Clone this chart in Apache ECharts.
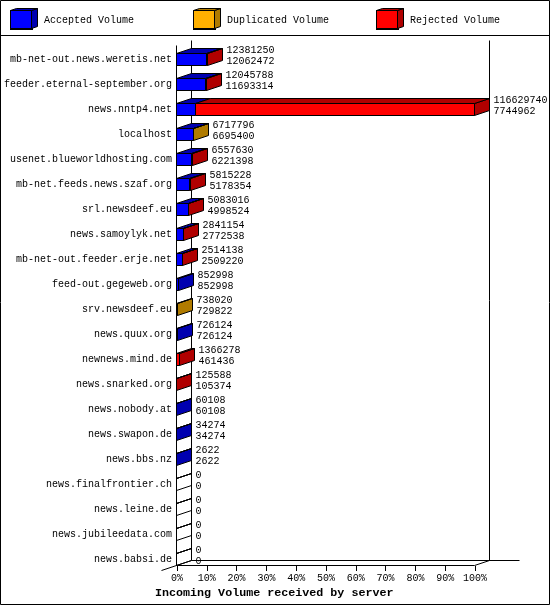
<!DOCTYPE html>
<html><head><meta charset="utf-8">
<style>html,body{margin:0;padding:0;background:#fff}#c{width:550px;height:605px}</style>
<script src="https://cdn.jsdelivr.net/npm/echarts@6/dist/echarts.min.js"></script>
</head><body><div id="c"></div>
<script>
const categories = ["mb-net-out.news.weretis.net","feeder.eternal-september.org","news.nntp4.net","localhost","usenet.blueworldhosting.com","mb-net.feeds.news.szaf.org","srl.newsdeef.eu","news.samoylyk.net","mb-net-out.feeder.erje.net","feed-out.gegeweb.org","srv.newsdeef.eu","news.quux.org","newnews.mind.de","news.snarked.org","news.nobody.at","news.swapon.de","news.bbs.nz","news.finalfrontier.ch","news.leine.de","news.jubileedata.com","news.babsi.de"];
const topLabels = [12381250,12045788,116629740,6717796,6557630,5815228,5083016,2841154,2514138,852998,738020,726124,1366278,125588,60108,34274,2622,0,0,0,0];
const bottomLabels = [12062472,11693314,7744962,6695400,6221398,5178354,4998524,2772538,2509220,852998,729822,726124,461436,105374,60108,34274,2622,0,0,0,0];
const accepted = [12062472,11693314,7744962,6695400,6221398,5178354,4998524,2772538,2509220,852998,0,726124,0,0,60108,34274,2622,0,0,0,0];
const duplicated = [0,0,0,22396,0,0,0,0,0,0,738020,0,0,0,0,0,0,0,0,0,0];
const rejected = [318778,352474,108884778,0,336232,636874,84492,68616,4918,0,0,0,1366278,125588,0,0,0,0,0,0,0];
const FONT = '"Liberation Mono", monospace';
const FULL = Math.max.apply(null, topLabels);
const DX = 15, DY = 5, BAR = 12;
const styles = {
  accepted: {front:'#0000ff', dark:'#0000b0'},
  duplicated: {front:'#ffb000', dark:'#b07b00'},
  rejected: {front:'#ff0000', dark:'#b00000'}
};
const order = [accepted, duplicated, rejected];
function segments(idx) {
  const out = [];
  categories.forEach((c, i) => {
    let start = 0;
    for (let k = 0; k < idx; k++) start += order[k][i];
    const v = order[idx][i];
    const total = accepted[i] + duplicated[i] + rejected[i];
    let isLast = v > 0;
    for (let k = idx + 1; k < 3; k++) if (order[k][i] > 0) isLast = false;
    if (v > 0) out.push([start / FULL * 100, (start + v) / FULL * 100, i, isLast ? 1 : 0, 0]);
    else if (total === 0 && idx === 0) out.push([0, 0, i, 1, 1]);
  });
  return out;
}
const px = v => Math.floor(v + 0.001) - 0.5;
function boxRender(st) {
  return function (params, api) {
    const a = api.coord([api.value(0), api.value(2)]);
    const b = api.coord([api.value(1), api.value(2)]);
    const x0 = px(a[0]), x1 = px(b[0]), y0 = Math.floor(a[1]) + 0.5, y1 = y0 + BAR;
    const empty = api.value(4) === 1;
    const line = {stroke:'#000', lineWidth:1};
    const ch = [];
    if (api.value(3) === 1) {
      ch.push({type:'polygon', shape:{points:[[x1,y0],[x1+DX,y0-DY],[x1+DX,y1-DY],[x1,y1]]},
        style:Object.assign({fill: empty ? 'none' : st.dark}, line)});
    }
    ch.push({type:'polygon', shape:{points:[[x0,y0],[x0+DX,y0-DY],[x1+DX,y0-DY],[x1,y0]]},
      style:Object.assign({fill: empty ? 'none' : st.dark}, line)});
    ch.push({type:'rect', shape:{x:x0, y:y0, width:x1-x0, height:BAR},
      style:Object.assign({fill: empty ? 'none' : st.front}, line)});
    return {type:'group', children:ch};
  };
}
function labelRender(params, api) {
  const i = api.value(1);
  const p = api.coord([api.value(0), i]);
  const x = px(p[0]) + DX + 4, y = Math.floor(p[1]);
  const t = (txt, yy) => ({type:'text', style:{text:String(txt), x:x, y:yy, fill:'#000',
    font:'10px ' + FONT, textAlign:'left', textVerticalAlign:'middle'}});
  return {type:'group', children:[t(topLabels[i], y - 2.5), t(bottomLabels[i], y + 8.5)]};
}
function frameRender(params, api) {
  const tl = api.coord([0, 0]), br = api.coord([100, categories.length - 1]);
  const L = px(tl[0]), R = px(br[0]);
  const bot = Math.floor(br[1]) + 12.5, top = 45.5;
  const seg = (x1,y1,x2,y2) => ({type:'line', shape:{x1,y1,x2,y2}, style:{stroke:'#000', lineWidth:1}});
  return {type:'group', children:[
    seg(L, top, L, bot),
    seg(L + DX, top - DY, L + DX, bot - DY),
    seg(R + DX, top - DY, R + DX, bot - DY),
    seg(L + DX, bot - DY, R + DX + 30, bot - DY),
    seg(L - 15, bot + DY, L + DX, bot - DY),
    seg(R, bot, R + DX, bot - DY),
    seg(L, bot, R, bot)
  ]};
}
const names = ['Accepted Volume','Duplicated Volume','Rejected Volume'];
const keys = ['accepted','duplicated','rejected'];
const legendX = [10, 193, 376];
function cube(x, st) {
  const l = x + 0.5, r = l + 21, t = 10.5, b = 28.5, dx = 6, dy = 2;
  const s = {stroke:'#000', lineWidth:1};
  return [
    {type:'polygon', shape:{points:[[r,t],[r+dx,t-dy],[r+dx,b-dy],[r,b]]}, style:Object.assign({fill:st.dark}, s), z:50},
    {type:'polygon', shape:{points:[[l,t],[l+dx,t-dy],[r+dx,t-dy],[r,t]]}, style:Object.assign({fill:st.dark}, s), z:50},
    {type:'rect', shape:{x:l, y:t, width:21, height:18}, style:Object.assign({fill:st.front}, s), z:50}
  ];
}
const graphicEls = [
  {type:'rect', shape:{x:0.5,y:0.5,width:549,height:604}, style:{fill:'none', stroke:'#000', lineWidth:1}, z:1},
  {type:'line', shape:{x1:0,y1:35.5,x2:550,y2:35.5}, style:{stroke:'#000', lineWidth:1}, z:1}
];
keys.forEach((k, i) => graphicEls.push(...cube(legendX[i], styles[k])));
const chart = echarts.init(document.getElementById('c'), null, {renderer:'canvas', width:550, height:605});
chart.setOption({
  animation:false,
  backgroundColor:'#fff',
  textStyle:{fontFamily:FONT},
  graphic:{elements:graphicEls},
  title:{text:'Incoming Volume received by server', left:155, top:587, padding:0,
    textStyle:{color:'#000', fontFamily:FONT, fontSize:11.7, fontWeight:'bold'}},
  legend: names.map((n, i) => ({
    data:[n], left:legendX[i], top:10, padding:0, itemWidth:21, itemHeight:18,
    selectedMode:false, icon:'rect', itemGap:0,
    textStyle:{fontFamily:FONT, fontSize:10, color:'#000', padding:[0,0,0,7]}
  })),
  grid:{left:177, top:41, width:298, height:525, containLabel:false},
  xAxis:{type:'value', min:0, max:100, interval:10, position:'bottom',
    axisLine:{show:false}, splitLine:{show:false},
    axisTick:{show:true, length:5, lineStyle:{color:'#000', width:1}},
    axisLabel:{color:'#000', fontFamily:FONT, fontSize:10, margin:7, formatter:v => v + '%', showMinLabel:true, showMaxLabel:true, hideOverlap:false}},
  yAxis:{type:'category', inverse:true, data:categories, boundaryGap:true,
    axisLine:{show:false}, axisTick:{show:false}, splitLine:{show:false},
    axisLabel:{color:'#000', fontFamily:FONT, fontSize:10, margin:5, interval:0, verticalAlign:'top', lineHeight:11}},
  series:[
    {type:'custom', name:'frame', silent:true, z:1, data:[[0,0]], encode:{x:0,y:1}, renderItem:frameRender},
    ...keys.map((k, i) => ({
      type:'custom', name:names[i], color:styles[k].front, z:3, silent:true,
      itemStyle:{color:styles[k].front, borderColor:'#000', borderWidth:1},
      data:segments(i), dimensions:['start','end','cat','last','empty'],
      encode:{x:[0,1], y:2}, renderItem:boxRender(styles[k])
    })),
    {type:'custom', name:'labels', z:4, silent:true,
      data:categories.map((c, i) => [topLabels[i] / FULL * 100, i]), encode:{x:0,y:1}, renderItem:labelRender}
  ]
});
</script></body></html>
